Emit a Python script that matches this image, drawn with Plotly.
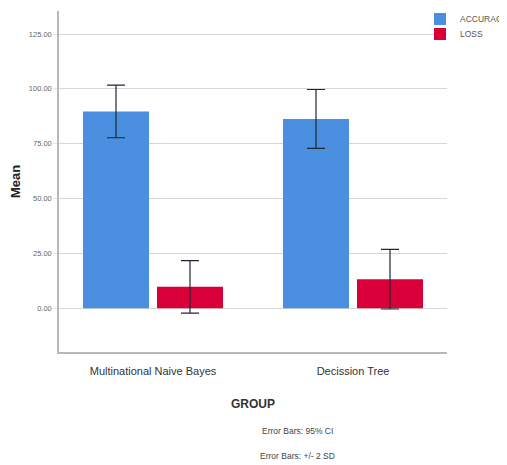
import plotly.graph_objects as go

groups = ["Multinational Naive Bayes", "Decission Tree"]
accuracy = [89.7, 86.3]
accuracy_err = [12.0, 13.4]
loss = [9.7, 13.2]
loss_err = [12.0, 13.6]
y_ticks = [0, 25, 50, 75, 100, 125]
y_tick_labels = ["0.00", "25.00", "50.00", "75.00", "100.00", "125.00"]

FONT = "Arial, Liberation Sans, sans-serif"
err_style = dict(type="data", color="#1e2733", thickness=1.2, width=9)

OFF = 8  # page body margin
L, R, T, B = 59 - OFF, 68, 11 - OFF, 121
PW, PH = 507 - L - R, 465 - T - B


def px_x(sx):
    return (sx - OFF - L) / PW


def px_y(sy):
    return (465 - B - (sy - OFF)) / PH


fig = go.Figure()
fig.add_trace(go.Bar(
    name="ACCURACY", x=groups, y=accuracy,
    marker=dict(color="#4a8fe0", line=dict(width=0)),
    error_y=dict(array=accuracy_err, **err_style),
    legend="legend",
))
fig.add_trace(go.Bar(
    name="LOSS", x=groups, y=loss,
    marker=dict(color="#d9003a", line=dict(width=0)),
    error_y=dict(array=loss_err, **err_style),
    legend="legend2",
))

leg_common = dict(xanchor="left", yanchor="middle",
                  font=dict(size=8.5, family=FONT, color="#555555"),
                  itemwidth=30, bgcolor="rgba(0,0,0,0)", borderwidth=0)

fig.update_layout(
    width=507, height=465,
    margin=dict(l=L, r=R, t=T, b=B, autoexpand=False),
    paper_bgcolor="white", plot_bgcolor="white",
    barmode="group", bargap=0.26, bargroupgap=0.108,
    font=dict(family=FONT, color="#333333"),
    showlegend=True,
    legend=dict(x=px_x(420), y=px_y(19), **leg_common),
    legend2=dict(x=px_x(420), y=px_y(34), **leg_common),
    xaxis=dict(
        range=[-0.47, 1.47], showgrid=False,
        showline=True, linecolor="#b8b8b8", linewidth=1.5,
        ticks="outside", ticklen=8, tickcolor="rgba(0,0,0,0)",
        tickfont=dict(size=11, family=FONT, color="#333333"),
        title=dict(text="<b>GROUP</b>", font=dict(size=12, family=FONT, color="#333333"), standoff=24),
    ),
    yaxis=dict(
        range=[-20, 135.5], tickvals=y_ticks, ticktext=y_tick_labels,
        showgrid=True, gridcolor="#d6d6d6", gridwidth=1, zeroline=False,
        showline=True, linecolor="#b8b8b8", linewidth=1.5,
        ticks="outside", ticklen=4, tickcolor="#e6e6e6",
        tickfont=dict(size=7.5, family=FONT, color="#666666"),
        title=dict(text="<b>Mean</b>", font=dict(size=13, family=FONT, color="#222222"), standoff=6),
    ),
    annotations=[
        dict(text="Error Bars: 95% CI", xref="paper", yref="paper", x=px_x(297), y=px_y(431),
             showarrow=False, font=dict(size=8.5, family=FONT, color="#444444"), xanchor="center", yanchor="middle"),
        dict(text="Error Bars: +/- 2 SD", xref="paper", yref="paper", x=px_x(297), y=px_y(456),
             showarrow=False, font=dict(size=8.5, family=FONT, color="#444444"), xanchor="center", yanchor="middle"),
    ],
)

fig.write_html("out.html")
